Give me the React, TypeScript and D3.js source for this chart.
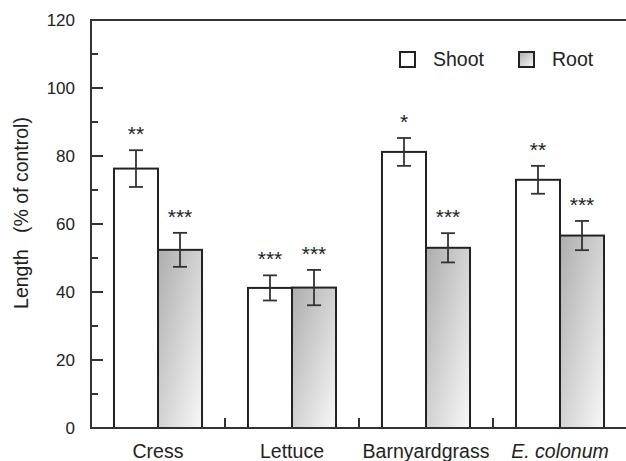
import React from "react";
import * as d3 from "d3";

const categories = ["Cress", "Lettuce", "Barnyardgrass", "E. colonum"];
const seriesNames = ["Shoot", "Root"];
const shootValues = [76.3, 41.2, 81.2, 73.0];
const shootErrors = [5.4, 3.7, 4.1, 4.1];
const rootValues = [52.4, 41.3, 53.0, 56.6];
const rootErrors = [5.0, 5.2, 4.3, 4.3];
const shootSig = ["**", "***", "*", "**"];
const rootSig = ["***", "***", "***", "***"];
const yTicks = [0, 20, 40, 60, 80, 100, 120];
const yMinorTicks = [10, 30, 50, 70, 90, 110];

const W = 626;
const H = 461;
const FONT = "'Liberation Sans', Arial, Helvetica, sans-serif";
const AX = "#333";

export default function App() {
  const x0 = 91, x1 = 627, yTop = 20, yBot = 428;
  const y = d3.scaleLinear().domain([0, 120]).range([yBot, yTop]);
  const xb = d3.scaleBand<string>().domain(categories).range([x0, x1]).paddingInner(0.343).paddingOuter(0.1715);
  const xs = d3.scaleBand<string>().domain(seriesNames).range([0, xb.bandwidth()]);
  const step = xb.step();

  const bars: any[] = [];
  categories.forEach((c, i) => {
    bars.push({ c, s: "Shoot", v: shootValues[i], e: shootErrors[i], sig: shootSig[i] });
    bars.push({ c, s: "Root", v: rootValues[i], e: rootErrors[i], sig: rootSig[i] });
  });

  return (
    <svg width={W} height={H} style={{ position: "absolute", left: 0, top: 0, background: "#fff" }} fontFamily={FONT}>
      <defs>
        <linearGradient id="rootGrad" x1="0" y1="0" x2="1" y2="1">
          <stop offset="0" stopColor="#adadad" />
          <stop offset="1" stopColor="#f8f8f8" />
        </linearGradient>
      </defs>
      <rect x={0} y={0} width={W} height={H} fill="#fff" />

      {bars.map((b, k) => {
        const bx = (xb(b.c) as number) + (xs(b.s) as number);
        const bw = xs.bandwidth();
        const cx = bx + bw / 2;
        const top = y(b.v);
        const eTop = y(b.v + b.e);
        const eBot = y(b.v - b.e);
        return (
          <g key={k}>
            <rect x={bx} y={top} width={bw} height={yBot - top} fill={b.s === "Root" ? "url(#rootGrad)" : "#fff"} stroke="#222" strokeWidth={2} />
            <line x1={cx} x2={cx} y1={eTop} y2={eBot} stroke={AX} strokeWidth={1.8} />
            <line x1={cx - 7} x2={cx + 7} y1={eTop} y2={eTop} stroke={AX} strokeWidth={1.8} />
            <line x1={cx - 7} x2={cx + 7} y1={eBot} y2={eBot} stroke={AX} strokeWidth={1.8} />
            <text x={cx} y={eTop - 9} textAnchor="middle" fontSize={21} fill="#222">{b.sig}</text>
          </g>
        );
      })}

      {/* axes */}
      <line x1={x0} x2={W} y1={yTop} y2={yTop} stroke={AX} strokeWidth={2} />
      <line x1={x0} x2={W} y1={yBot} y2={yBot} stroke={AX} strokeWidth={2} />
      <line x1={x0} x2={x0} y1={yTop - 1} y2={yBot + 1} stroke={AX} strokeWidth={2} />
      {yTicks.map((t) => (
        <g key={"t" + t}>
          <line x1={x0} x2={x0 + 12} y1={y(t)} y2={y(t)} stroke={AX} strokeWidth={2} />
          <text x={x0 - 16} y={y(t) + 6} textAnchor="end" fontSize={17} fill="#222">{t}</text>
        </g>
      ))}
      {yMinorTicks.map((t) => (
        <line key={"m" + t} x1={x0} x2={x0 + 7} y1={y(t)} y2={y(t)} stroke={AX} strokeWidth={2} />
      ))}
      {categories.slice(1).map((c) => {
        const bx = (xb(c) as number) - (step - xb.bandwidth()) / 2;
        return <line key={"sep" + c} x1={bx} x2={bx} y1={yBot} y2={yBot - 10} stroke={AX} strokeWidth={2} />;
      })}
      {categories.map((c) => (
        <text key={"cl" + c} x={(xb(c) as number) + xb.bandwidth() / 2} y={458} textAnchor="middle" fontSize={19.5} fill="#222" fontStyle={c === "E. colonum" ? "italic" : "normal"}>{c}</text>
      ))}

      <text transform={`translate(28,213) rotate(-90)`} textAnchor="middle" fontSize={19.5} fill="#222" style={{ whiteSpace: "pre" }}>{"Length   (% of control)"}</text>

      {/* legend */}
      <rect x={400} y={52} width={15} height={15} fill="#fff" stroke="#222" strokeWidth={2} />
      <text x={433} y={66} fontSize={19.5} fill="#222">Shoot</text>
      <rect x={519} y={52} width={15} height={15} fill="url(#rootGrad)" stroke="#222" strokeWidth={2} />
      <text x={552} y={66} fontSize={19.5} fill="#222">Root</text>
    </svg>
  );
}
